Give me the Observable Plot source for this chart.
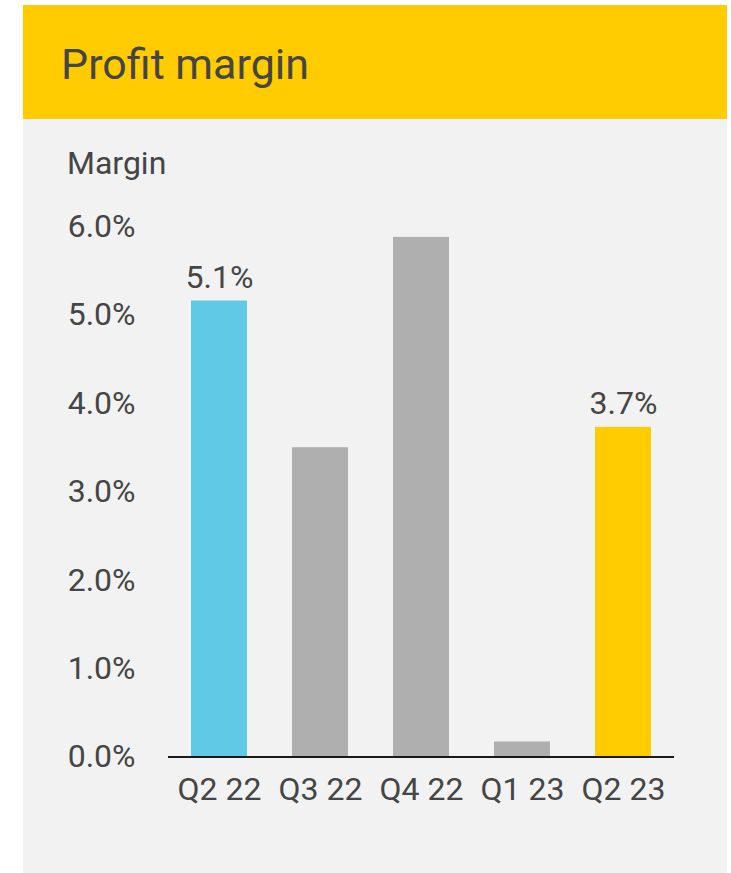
<!DOCTYPE html>
<html>
<head>
<meta charset="utf-8">
<script src="https://cdn.jsdelivr.net/npm/d3@7"></script>
<script src="https://cdn.jsdelivr.net/npm/@observablehq/plot@0.6"></script>
<style>
  html, body { margin: 0; padding: 0; background: #ffffff; }
  body { width: 731px; height: 873px; position: relative; overflow: hidden; font-family: Roboto, sans-serif; }
  #card { position: absolute; left: 23px; top: 5px; width: 704px; height: 868px; background: #f2f2f2; }
  #header { position: absolute; left: 0; top: 0; width: 704px; height: 113.5px; background: #fecc00; }
  #title { position: absolute; left: 38px; top: 37.5px; font-size: 43px; line-height: 1; color: #454545; white-space: nowrap; }
  #ylabel { position: absolute; left: 44px; top: 141.5px; font-size: 32px; line-height: 1; color: #454545; white-space: nowrap; }
  #chart { position: absolute; left: 0; top: 113px; }
</style>
</head>
<body>
<div id="card">
  <div id="header"><div id="title">Profit margin</div></div>
  <div id="ylabel">Margin</div>
  <div id="chart"></div>
</div>
<script>
const quarters = ["Q2 22", "Q3 22", "Q4 22", "Q1 23", "Q2 23"];
const margins = [5.16, 3.5, 5.88, 0.17, 3.73];
const valueLabels = ["5.1%", "", "", "", "3.7%"];
const barColors = ["#5fc9e6", "#afafaf", "#afafaf", "#afafaf", "#fecc00"];
const yTicks = [0, 1, 2, 3, 4, 5, 6];

const data = quarters.map((q, i) => ({quarter: q, margin: margins[i], label: valueLabels[i], color: barColors[i]}));

const chart = Plot.plot({
  width: 704,
  height: 755,
  marginLeft: 145,
  marginRight: 53,
  marginTop: 108.3,
  marginBottom: 116.5,
  style: {background: "transparent", fontFamily: "Roboto, sans-serif", fontSize: "32px", color: "#454545"},
  x: {domain: quarters, paddingInner: 0.45, paddingOuter: 0.225, label: null, tickSize: 0, tickPadding: 20},
  y: {domain: [0, 6], ticks: yTicks, tickFormat: d => d.toFixed(1) + "%", label: null, tickSize: 0, tickPadding: 33},
  marks: [
    Plot.barY(data, {x: "quarter", y: "margin", fill: "color"}),
    Plot.text(data.filter(d => d.label), {x: "quarter", y: "margin", text: "label", lineAnchor: "bottom", dy: -13, fill: "#454545", fontSize: 32}),
    Plot.ruleY([0], {stroke: "#1a1a1a", strokeWidth: 2.2})
  ]
});
document.getElementById("chart").appendChild(chart);
</script>
</body>
</html>
